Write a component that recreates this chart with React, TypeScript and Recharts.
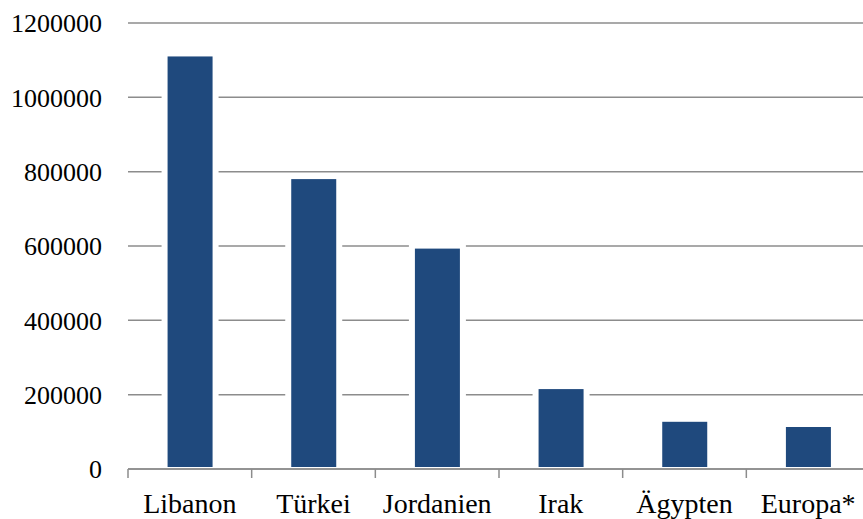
import { BarChart, Bar, XAxis, YAxis, CartesianGrid } from "recharts";

const countries = ["Libanon", "Türkei", "Jordanien", "Irak", "Ägypten", "Europa*"];
const refugees = [1110000, 780000, 593000, 215000, 127000, 113000];
const yTicks = [0, 200000, 400000, 600000, 800000, 1000000, 1200000];

const data = countries.map((name, i) => ({ name, value: refugees[i] }));

const font = "Liberation Serif, Times New Roman, serif";
const gray = "#8c8c8c";
const barColor = "#1F497D";

// white halo around each bar, so gridlines stop short of it
function HaloBar(props: any) {
  const { x, y, width, height } = props;
  if (!height) return null;
  return (
    <g>
      <rect x={x - 6} y={y - 6} width={width + 12} height={height + 4} fill="#fff" />
      <rect x={x} y={y} width={width} height={height - 2} fill={barColor} />
    </g>
  );
}

// category label plus a tick mark on the left edge of its band
function CategoryTick(props: any) {
  const { x, y, payload } = props;
  const edge = x - (payload.offset || 0);
  return (
    <g>
      <line x1={edge} y1={y} x2={edge} y2={y + 9} stroke={gray} strokeWidth={1.5} />
      <text x={x} y={y + 24} dy="0.71em" textAnchor="middle" fill="#000" fontSize={28} fontFamily={font}>
        {payload.value}
      </text>
    </g>
  );
}

function ValueTick(props: any) {
  const { x, y, payload } = props;
  return (
    <text x={x} y={y} dy="0.355em" textAnchor="end" fill="#000" fontSize={26} fontFamily={font}>
      {payload.value}
    </text>
  );
}

export default function App() {
  return (
    <div style={{ position: "fixed", left: 0, top: 0, width: 863, height: 519, overflow: "hidden", background: "#fff", fontFamily: font }}>
      <BarChart
        width={871}
        height={519}
        data={data}
        margin={{ top: 23, right: 1, left: 0, bottom: 0 }}
        barCategoryGap="32%"
      >
        <CartesianGrid vertical={false} stroke={gray} strokeWidth={1.5} />
        <XAxis
          dataKey="name"
          height={50}
          stroke={gray}
          strokeWidth={1.5}
          tickLine={false}
          tickSize={0}
          tickMargin={0}
          tick={CategoryTick}
          interval={0}
        />
        <YAxis
          width={128}
          domain={[0, 1200000]}
          ticks={yTicks}
          axisLine={false}
          tickLine={false}
          tickSize={0}
          tickMargin={26}
          tick={ValueTick}
          interval={0}
        />
        <Bar dataKey="value" fill={barColor} shape={HaloBar} isAnimationActive={false} />
      </BarChart>
    </div>
  );
}
